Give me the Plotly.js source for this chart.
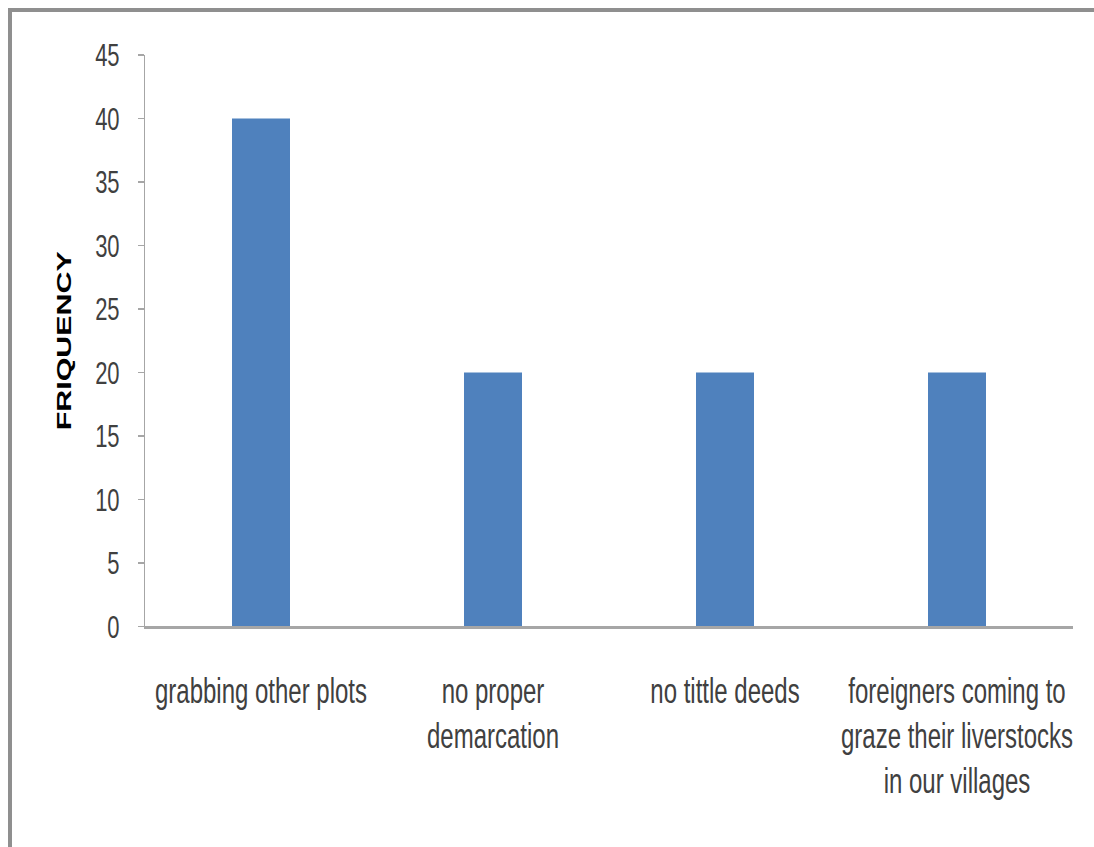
<!DOCTYPE html>
<html>
<head>
<meta charset="utf-8">
<script src="https://cdn.plot.ly/plotly-3.0.1.min.js"></script>
<style>
  html, body { margin: 0; padding: 0; background: #ffffff; }
  #wrap { position: relative; width: 1094px; height: 847px; overflow: hidden; }
  #chart { position: absolute; left: 0; top: 0; width: 1094px; height: 584px;
           transform: scaleY(1.45); transform-origin: 0 0; }
  #frame { position: absolute; left: 8px; top: 8px; width: 1100px; height: 850px;
           border-left: 4px solid #8f8f8f; border-top: 4px solid #8f8f8f;
           box-sizing: border-box; pointer-events: none; }
</style>
</head>
<body>
<div id="wrap">
  <div id="chart"></div>
  <div id="frame"></div>
</div>
<script>
const categories = [
  "grabbing other plots",
  "no proper<br>demarcation",
  "no tittle deeds",
  "foreigners coming to<br>graze their liverstocks<br>in our villages"
];
const frequency = [40, 20, 20, 20];
const yTickValues = [0, 5, 10, 15, 20, 25, 30, 35, 40, 45];
const yTitle = "FRIQUENCY";

const trace = {
  type: "bar",
  x: categories,
  y: frequency,
  marker: { color: "#4f81bd" },
  hoverinfo: "x+y"
};

const layout = {
  width: 1094,
  height: 584,
  margin: { l: 145, r: 21, t: 38, b: 152 },
  paper_bgcolor: "rgba(0,0,0,0)",
  plot_bgcolor: "#ffffff",
  bargap: 0.75,
  showlegend: false,
  font: { family: "Liberation Sans, Arial, sans-serif", color: "#404040" },
  xaxis: {
    type: "category",
    showline: true,
    linecolor: "#a6a6a6",
    linewidth: 2,
    showgrid: false,
    zeroline: false,
    ticks: "",
    ticklabelstandoff: 22,
    tickfont: { size: 24, family: "Liberation Sans, Arial, sans-serif", color: "#404040" },
    fixedrange: true
  },
  yaxis: {
    range: [0, 45],
    tickvals: yTickValues,
    ticktext: yTickValues.map(String),
    showline: true,
    linecolor: "#a6a6a6",
    linewidth: 1,
    ticks: "outside",
    ticklen: 6,
    tickcolor: "#a6a6a6",
    tickwidth: 1,
    ticklabelstandoff: 14,
    showgrid: false,
    zeroline: false,
    tickfont: { size: 22, family: "Liberation Sans, Arial, sans-serif", color: "#404040" },
    title: {
      text: yTitle,
      standoff: 17,
      font: { size: 21, family: "Liberation Sans, Arial, sans-serif", color: "#000000", weight: "bold" }
    },
    fixedrange: true
  }
};

Plotly.newPlot("chart", [trace], layout, { displayModeBar: false, staticPlot: true });
</script>
</body>
</html>
